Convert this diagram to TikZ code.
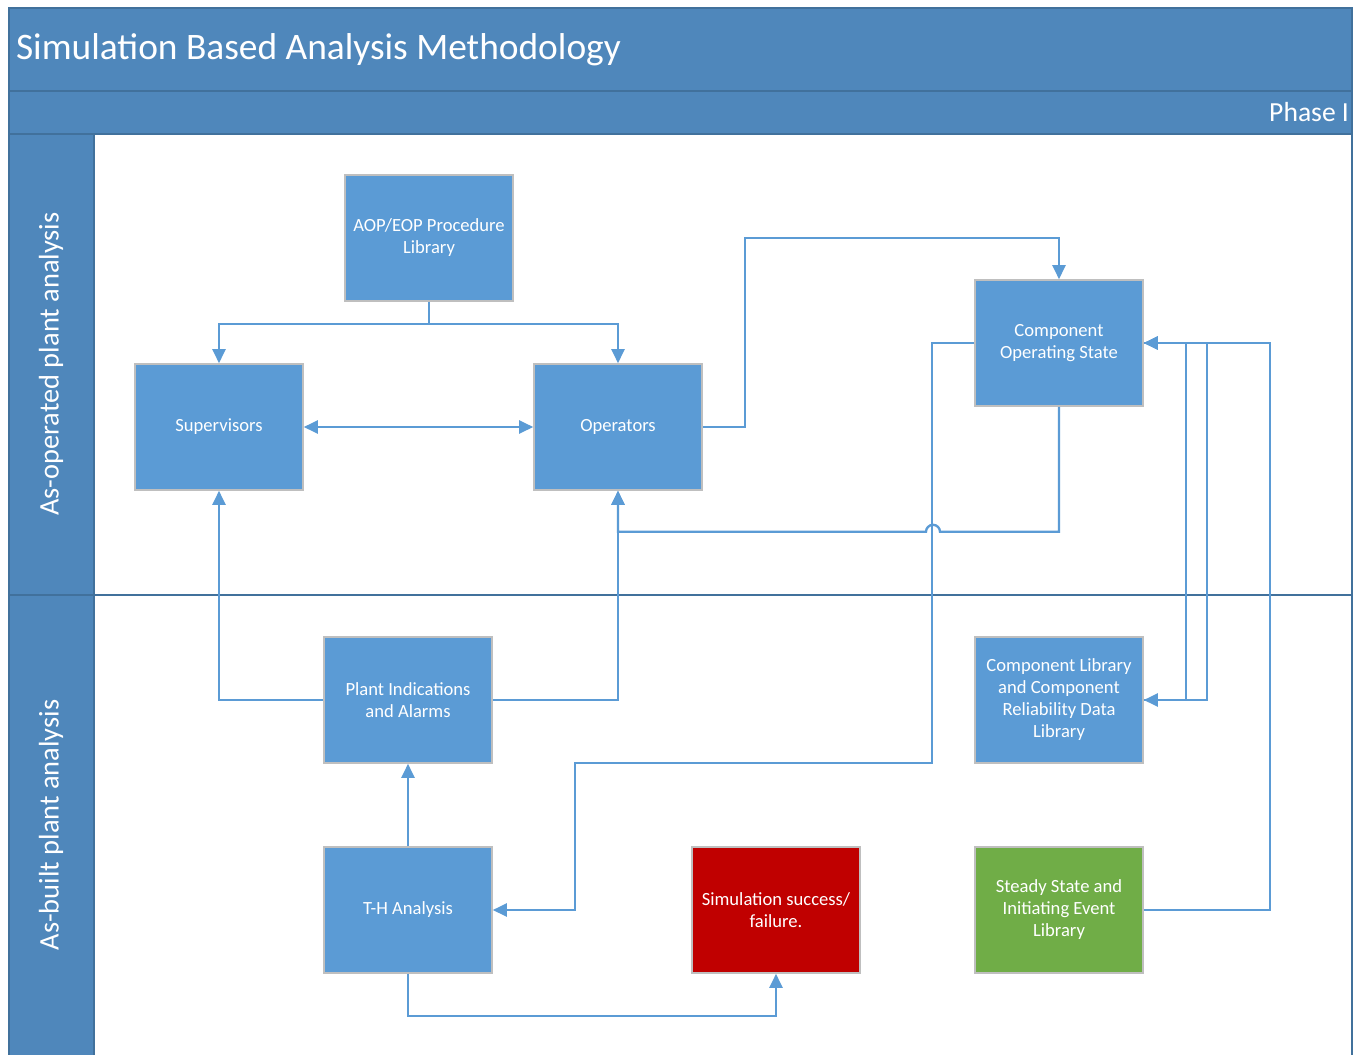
\documentclass[tikz,border=0pt]{standalone}
\usepackage{xcolor}
\usepackage{fontspec}
\setmainfont{Carlito}
\usepackage{tikz}
\usetikzlibrary{arrows.meta, positioning}
\definecolor{poolblue}{HTML}{4F87BB}
\definecolor{poolline}{HTML}{41719C}
\definecolor{boxblue}{HTML}{5B9BD5}
\definecolor{boxred}{HTML}{C00000}
\definecolor{boxgreen}{HTML}{70AD47}
\tikzstyle{proc} = [rectangle, minimum width=84pt, minimum height=63pt,
 text centered, align=center, text=white, draw=black!25, line width=0.8pt,
 fill=boxblue, font=\fontsize{9.3}{11}\selectfont]
\tikzstyle{arrow} = [draw=boxblue, line width=1.15pt, -{Triangle[length=7pt,width=6.5pt]}]
\tikzstyle{arrows2} = [draw=boxblue, line width=1.15pt, {Triangle[length=7pt,width=6.5pt]}-{Triangle[length=7pt,width=6.5pt]}]
\tikzstyle{lane} = [fill=poolblue, draw=poolline, line width=0.8pt]

\begin{document}
\begin{tikzpicture}[x=0.5pt, y=-0.5pt]
	\useasboundingbox (0,0) rectangle (1356,1055);
	% Pool und Bahnen
	\fill[white] (94,134) rectangle (1352,1055); % Inhalt
	\draw[lane] (9,8) rectangle (1352,91); % Titelzeile
	\draw[lane] (9,91) rectangle (1352,134); % Phase
	\draw[lane] (9,134) rectangle (94,595); % Bahn oben
	\draw[lane] (9,595) rectangle (94,1060); % Bahn unten
	\draw[poolline, line width=0.8pt] (94,595) -- (1352,595); % Trennlinie
	\draw[poolline, line width=0.8pt] (1352,134) -- (1352,1060); % Rand rechts
	\node[anchor=west, text=white, font=\fontsize{18.7}{21}\selectfont] (title) at (9,50) {Simulation Based Analysis Methodology};
	\node[anchor=east, text=white, font=\fontsize{13.8}{16}\selectfont] (phase) at (1356,112) {Phase I};
	\node[rotate=90, text=white, font=\fontsize{14.2}{16}\selectfont] (laneop) at (51,364) {As-operated plant analysis};
	\node[rotate=90, text=white, font=\fontsize{14.2}{16}\selectfont] (lanebuilt) at (51,825) {As-built plant analysis};

	% Bloecke
	\node[proc] (aop) at (429,238) {AOP/EOP Procedure\\Library};
	\node[proc] (sup) at (219,427) {Supervisors};
	\node[proc] (ops) at (618,427) {Operators};
	\node[proc] (cos) at (1059,343) {Component\\Operating State};
	\node[proc] (pia) at (408,700) {Plant Indications\\and Alarms};
	\node[proc] (clib) at (1059,700) {Component Library\\and Component\\Reliability Data\\Library};
	\node[proc] (th) at (408,910) {T-H Analysis};
	\node[proc, fill=boxred] (sim) at (776,910) {Simulation success/\\failure.};
	\node[proc, fill=boxgreen] (ss) at (1059,910) {Steady State and\\Initiating Event\\Library};

	% Verbindungen
	\draw[arrow] (aop.south) -- ++(0,22) -| (sup.north); % Bibliothek -> Supervisors
	\draw[arrow] (aop.south) -- ++(0,22) -| (ops.north); % Bibliothek -> Operators
	\draw[arrows2] (sup.east) -- (ops.west); % Supervisors <-> Operators
	\draw[arrow] (ops.east) -- ++(42,0) -- ++(0,-189) -| (cos.north); % Operators -> Zustand
	\draw[arrow] (cos.south) -- ++(0,125) -- ++(-119,0) arc[start angle=0, end angle=-180, radius=7] -| (ops.south); % Zustand -> Operators, mit Sprung
	\draw[arrow] (cos.west) -- ++(-42,0) -- ++(0,420) -- ++(-357,0) |- (th.east); % Zustand -> T-H
	\draw[arrow] (pia.west) -| (sup.south); % Anzeigen -> Supervisors
	\draw[arrow] (pia.east) -| (ops.south); % Anzeigen -> Operators
	\draw[arrow] (th.north) -- (pia.south); % T-H -> Anzeigen
	\draw[arrow] (th.south) -- ++(0,42) -| (sim.south); % T-H -> Ergebnis
	\draw[arrow] (ss.east) -- ++(126,0) |- (cos.east); % Ereignis -> Zustand
	\draw[arrow] (cos.east) -- ++(42,0) |- (clib.east); % Zustand -> Bibliothek
	\draw[arrow] (clib.east) -- ++(63,0) |- (cos.east); % Bibliothek -> Zustand
\end{tikzpicture}
\end{document}
